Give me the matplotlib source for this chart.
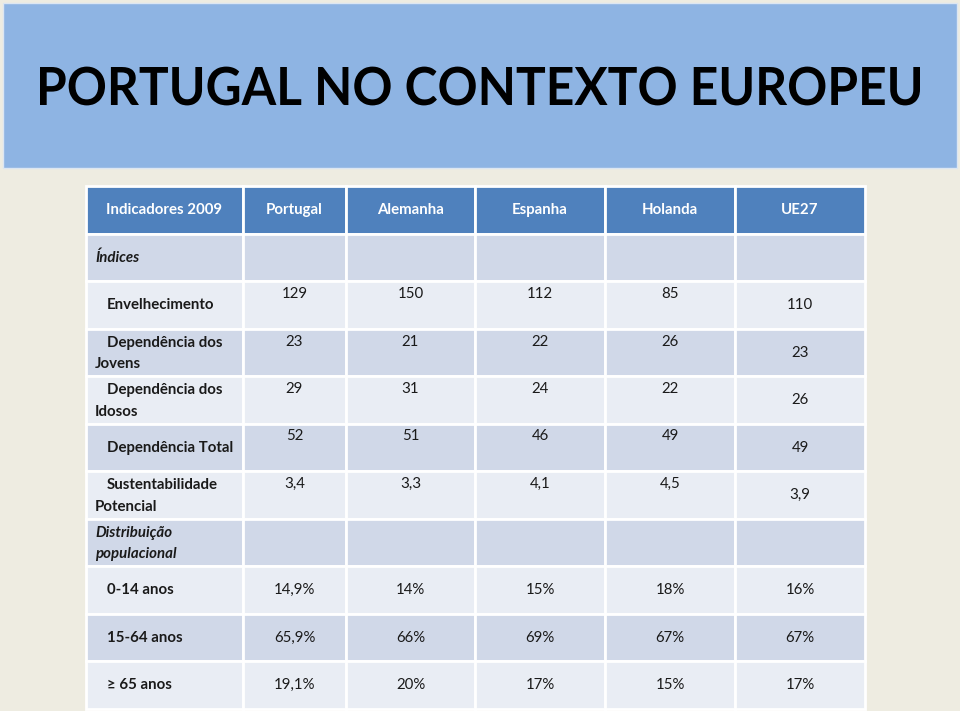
import matplotlib.pyplot as plt
from matplotlib.patches import Rectangle, PathPatch
from matplotlib.textpath import TextPath
from matplotlib.font_manager import FontProperties
from matplotlib.transforms import Affine2D

# data
title = 'PORTUGAL NO CONTEXTO EUROPEU'
header = ['Indicadores 2009', 'Portugal', 'Alemanha', 'Espanha', 'Holanda', 'UE27']
envelhecimento = [129, 150, 112, 85, 110]
dep_jovens = [23, 21, 22, 26, 23]
dep_idosos = [29, 31, 24, 22, 26]
dep_total = [52, 51, 46, 49, 49]
sustentabilidade = [3.4, 3.3, 4.1, 4.5, 3.9]
anos_0_14 = [14.9, 14, 15, 18, 16]
anos_15_64 = [65.9, 66, 69, 67, 67]
anos_65 = [19.1, 20, 17, 15, 17]

def fmt_num(v):
    if float(v).is_integer():
        return str(int(v))
    return f'{v:.1f}'.replace('.', ',')

def fmt_pct(v):
    return fmt_num(v) + '%'

# (first line, second line, italic, values, kind)
rows = [
    ('Índices', None, True, None, None),
    ('Envelhecimento', None, False, [fmt_num(v) for v in envelhecimento], 'top'),
    ('Dependência dos', 'Jovens', False, [fmt_num(v) for v in dep_jovens], 'top'),
    ('Dependência dos', 'Idosos', False, [fmt_num(v) for v in dep_idosos], 'top'),
    ('Dependência Total', None, False, [fmt_num(v) for v in dep_total], 'top'),
    ('Sustentabilidade', 'Potencial', False, [fmt_num(v) for v in sustentabilidade], 'top'),
    ('Distribuição', 'populacional', True, None, None),
    ('0-14 anos', None, False, [fmt_pct(v) for v in anos_0_14], 'mid'),
    ('15-64 anos', None, False, [fmt_pct(v) for v in anos_15_64], 'mid'),
    ('≥ 65 anos', None, False, [fmt_pct(v) for v in anos_65], 'mid'),
]

plt.rcParams['font.family'] = ['Lato', 'DejaVu Sans']

fig = plt.figure(figsize=(9.6, 7.11), dpi=100)
fig.patch.set_facecolor('#EEECE1')
ax = fig.add_axes([0, 0, 1, 1])
ax.set_xlim(0, 960)
ax.set_ylim(711, 0)
ax.axis('off')

# title band
ax.add_patch(Rectangle((3, 3), 954, 165, facecolor='#8EB4E3', edgecolor='#DCE6F2', lw=1))

# title drawn as a path, squeezed into the box of the slide title (Calibri-like)
tp = TextPath((0, 0), title, size=40, prop=FontProperties(family='Lato', weight='bold'))
cap = TextPath((0, 0), 'P', size=40, prop=FontProperties(family='Lato', weight='bold'))
ext = tp.get_extents()
cap_h = cap.get_extents().y1
sx = 880 / ext.width
sy = 38 / cap_h
tr = Affine2D().translate(-ext.x0, 0).scale(sx, -sy).translate(40, 105)
ax.add_patch(PathPatch(tr.transform_path(tp), facecolor='black', edgecolor='none'))

col_x = [86, 243, 346, 475, 605, 735, 865]
top = 186
rh = 47.5
header_c = '#4F81BD'
dark_c = '#D0D8E8'
light_c = '#E9EDF4'
txt_c = '#1A1A1A'
fs = 10.8

# header row
for j in range(6):
    x0, x1 = col_x[j], col_x[j + 1]
    ax.add_patch(Rectangle((x0, top), x1 - x0, rh, facecolor=header_c,
                           edgecolor='white', lw=2))
    ax.text((x0 + x1) / 2, top + rh / 2, header[j], ha='center', va='center',
            fontsize=fs, fontweight='bold', color='white')

for i, (l1, l2, ital, vals, kind) in enumerate(rows):
    y0 = top + rh * (i + 1)
    fc = dark_c if i % 2 == 0 else light_c
    for j in range(6):
        x0, x1 = col_x[j], col_x[j + 1]
        ax.add_patch(Rectangle((x0, y0), x1 - x0, rh, facecolor=fc,
                               edgecolor='white', lw=2))
    style = 'italic' if ital else 'normal'
    lx = 95 if ital else 107
    if l2 is None:
        ax.text(lx, y0 + rh / 2 + 0.5, l1, ha='left', va='center', fontsize=fs,
                fontweight='bold', style=style, color=txt_c)
    else:
        ax.text(lx, y0 + rh / 2 - 9.5, l1, ha='left', va='center', fontsize=fs,
                fontweight='bold', style=style, color=txt_c)
        ax.text(95, y0 + rh / 2 + 12, l2, ha='left', va='center', fontsize=fs,
                fontweight='bold', style=style, color=txt_c)
    if vals is None:
        continue
    for j, v in enumerate(vals):
        x0, x1 = col_x[j + 1], col_x[j + 2]
        if kind == 'top' and j < 4:
            yy = y0 + 13
        else:
            yy = y0 + rh / 2 + 0.5
        ax.text((x0 + x1) / 2, yy, v, ha='center', va='center', fontsize=fs,
                color=txt_c)

fig.savefig('out.png', dpi=100, facecolor=fig.get_facecolor())
